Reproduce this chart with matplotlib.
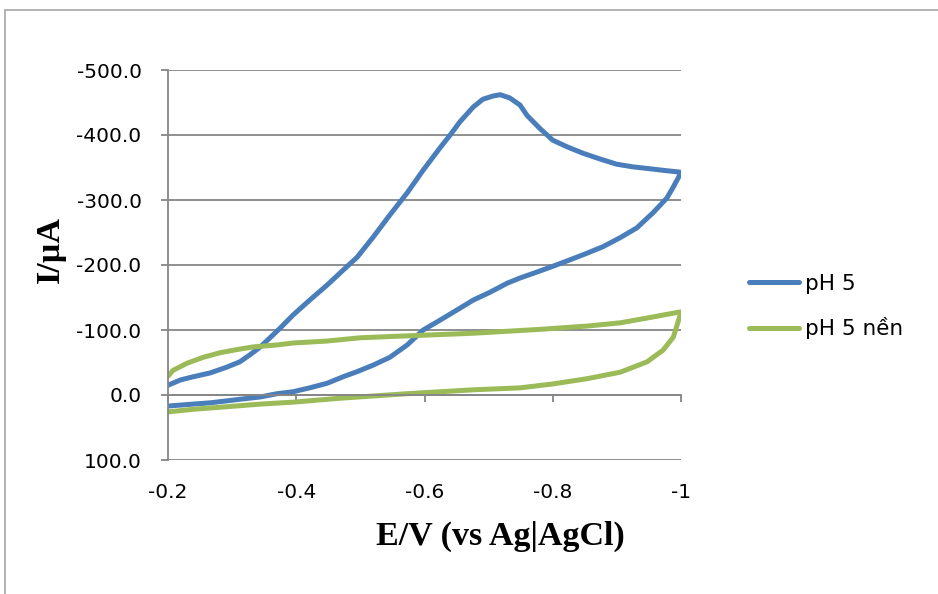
import matplotlib
matplotlib.use("Agg")
import matplotlib.pyplot as plt
from matplotlib.patches import Rectangle

plt.rcParams['axes.unicode_minus'] = False

# cyclic voltammograms, potential in V vs Ag|AgCl, current in uA
e_ph5 = [-0.200, -0.219, -0.239, -0.266, -0.292, -0.312, -0.328, -0.344,
         -0.359, -0.375, -0.395, -0.421, -0.448, -0.473, -0.495, -0.520,
         -0.546, -0.573, -0.598, -0.624, -0.640, -0.655, -0.676, -0.691,
         -0.707, -0.718, -0.733, -0.749, -0.760, -0.780, -0.800, -0.822,
         -0.847, -0.874, -0.900, -0.925, -0.952, -0.978, -0.998, -1.000,
         -0.988, -0.978, -0.956, -0.931, -0.905, -0.878, -0.853, -0.827,
         -0.800, -0.775, -0.749, -0.729, -0.702, -0.676, -0.651, -0.624,
         -0.598, -0.573, -0.546, -0.520, -0.495, -0.473, -0.448, -0.421,
         -0.395, -0.370, -0.344, -0.317, -0.292, -0.266, -0.239, -0.200]
i_ph5 = [-15, -23, -28, -34, -43, -51, -62, -74,
         -88, -103, -123, -146, -169, -192, -212, -243,
         -277, -311, -346, -380, -400, -420, -443, -455,
         -460, -462, -457, -446, -430, -410, -392, -382,
         -372, -363, -355, -351, -348, -345, -343, -342,
         -320, -303, -280, -257, -242, -228, -218, -208,
         -198, -189, -180, -172, -158, -146, -131, -115,
         -100, -77, -58, -46, -36, -28, -18, -11,
         -5, -2, 3, 6, 9, 12, 14, 17]

e_blank = [-0.200, -0.208, -0.230, -0.255, -0.281, -0.308, -0.333, -0.370,
           -0.395, -0.448, -0.499, -0.573, -0.676, -0.780, -0.853, -0.905,
           -0.956, -0.983, -1.000,
           -0.995, -0.988, -0.972, -0.947, -0.905, -0.853, -0.800, -0.749,
           -0.676, -0.573, -0.468, -0.395, -0.344, -0.292, -0.239, -0.200]
i_blank = [-29, -38, -49, -58, -65, -70, -74, -77,
           -80, -83, -88, -91, -95, -101, -106, -111,
           -120, -125, -128,
           -111, -89, -69, -51, -35, -25, -17, -11,
           -8, -2, 5, 11, 14, 18, 22, 26]

yticks = [-500, -400, -300, -200, -100, 0, 100]
xticks = [-0.2, -0.4, -0.6, -0.8, -1.0]
xlabels = ['-0.2', '-0.4', '-0.6', '-0.8', '-1']

grid_col = '#868686'
sans = ['DejaVu Sans']
serif = ['Liberation Serif', 'DejaVu Serif']

fig = plt.figure(figsize=(9.38, 5.94), dpi=100)
fig.patches.append(Rectangle((5 / 938, -0.1), 1.2, (584 / 594) + 0.1,
                             transform=fig.transFigure, fill=False,
                             edgecolor='#a6a6a6', lw=1.2))

ax = fig.add_axes([168 / 938, 134 / 594, 513 / 938, 390 / 594])
ax.plot(e_ph5, i_ph5, color='#4a7ebb', lw=3.6, label='pH 5',
        solid_capstyle='round', solid_joinstyle='round')
ax.plot(e_blank, i_blank, color='#9bbb59', lw=3.6, label='pH 5 nền',
        solid_capstyle='round', solid_joinstyle='round')

# x axis crosses at I = 0, like the spreadsheet default
ax.spines['bottom'].set_position(('data', 0))
for s in ['top', 'right']:
    ax.spines[s].set_visible(False)
for s in ['left', 'bottom']:
    ax.spines[s].set_color(grid_col)
    ax.spines[s].set_linewidth(1.3)

ax.set_xlim(-0.2, -1.0)
ax.set_ylim(100, -500)
ax.set_yticks(yticks)
ax.set_yticklabels(['%.1f' % v for v in yticks], family=sans, fontsize=14.5)
ax.set_xticks(xticks)
ax.set_xticklabels(xlabels, family=sans, fontsize=14.5)

ax.grid(axis='y', color=grid_col, lw=1.3)
ax.set_axisbelow(True)
ax.tick_params(axis='y', direction='out', length=5, width=1.3,
               color=grid_col, pad=14)
ax.tick_params(axis='x', direction='out', length=5, width=1.3,
               color=grid_col, pad=58)

ax.set_xlabel('E/V (vs Ag|AgCl)', family=serif, fontweight='bold',
              fontsize=24.5)
ax.xaxis.set_label_coords(0.647, -0.155)
ax.set_ylabel('I/µA', family=serif, fontweight='bold', fontsize=24.5)
ax.yaxis.set_label_coords(-0.2, 0.54)

fig.legend(loc='center left', bbox_to_anchor=(749 / 938, 287.5 / 594),
           frameon=False, prop={'family': sans, 'size': 15.5},
           handlelength=2.33, handletextpad=0.25, labelspacing=1.08,
           borderpad=0, borderaxespad=0)

fig.savefig('out.png', dpi=100)
